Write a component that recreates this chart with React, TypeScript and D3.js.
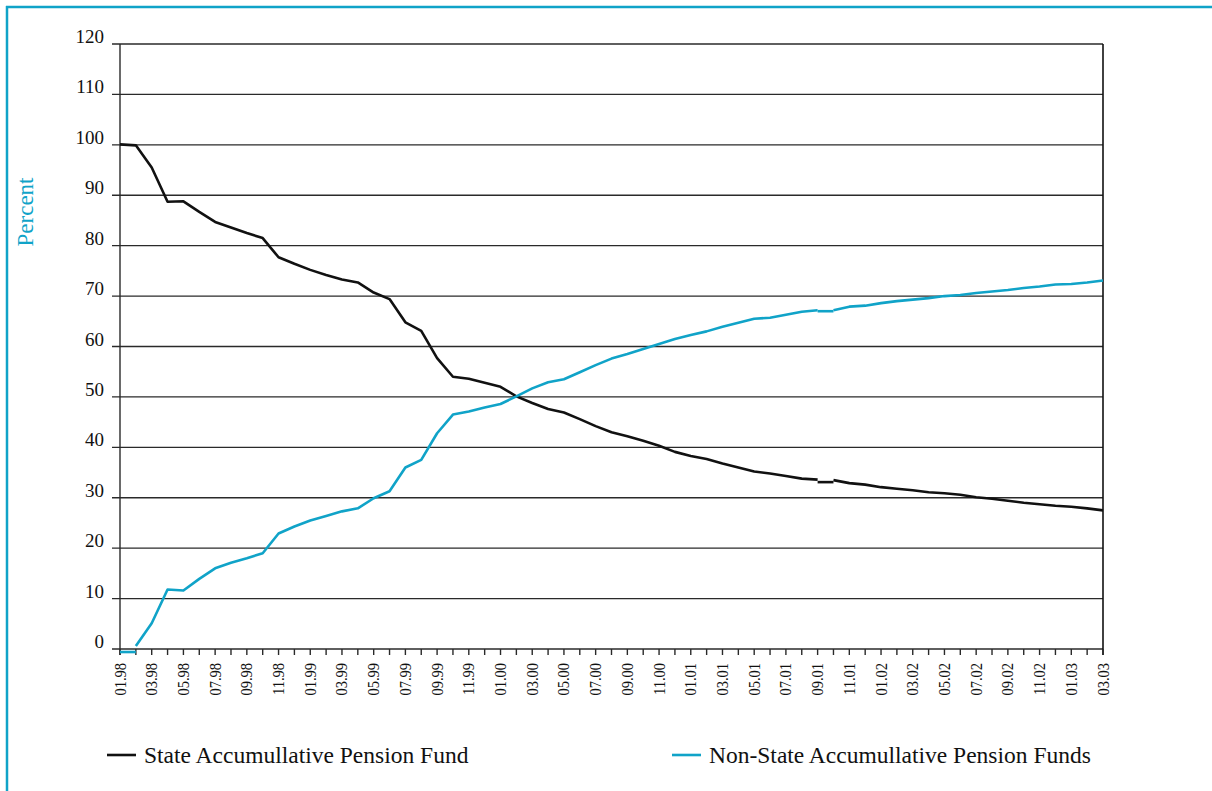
import React, { useEffect, useRef } from 'react';
import * as d3 from 'd3';

// months shown on the x axis (monthly, 01.98 .. 03.03)
const months = [
  '01.98', '02.98', '03.98', '04.98', '05.98', '06.98', '07.98', '08.98', '09.98', '10.98', '11.98', '12.98',
  '01.99', '02.99', '03.99', '04.99', '05.99', '06.99', '07.99', '08.99', '09.99', '10.99', '11.99', '12.99',
  '01.00', '02.00', '03.00', '04.00', '05.00', '06.00', '07.00', '08.00', '09.00', '10.00', '11.00', '12.00',
  '01.01', '02.01', '03.01', '04.01', '05.01', '06.01', '07.01', '08.01', '09.01', '10.01', '11.01', '12.01',
  '01.02', '02.02', '03.02', '04.02', '05.02', '06.02', '07.02', '08.02', '09.02', '10.02', '11.02', '12.02',
  '01.03', '02.03', '03.03',
];

const stateFund = [
  100.1, 99.9, 95.5, 88.7, 88.8, 86.7, 84.7, 83.6, 82.5, 81.5, 77.7, 76.4,
  75.2, 74.2, 73.3, 72.7, 70.7, 69.4, 64.8, 63.1, 57.7, 54.0, 53.6, 52.8,
  52.0, 50.1, 48.8, 47.6, 46.9, 45.6, 44.2, 43.0, 42.2, 41.3, 40.3, 39.1,
  38.3, 37.7, 36.8, 36.0, 35.2, 34.8, 34.3, 33.8, 33.6, 33.5, 32.9, 32.6,
  32.1, 31.8, 31.5, 31.1, 30.9, 30.6, 30.1, 29.8, 29.4, 29.0, 28.7, 28.4,
  28.2, 27.9, 27.5,
];

const nonStateFunds = [
  -0.6, 0.6, 5.1, 11.8, 11.6, 13.9, 16.0, 17.1, 18.0, 19.0, 22.9, 24.3,
  25.5, 26.4, 27.3, 27.9, 29.9, 31.3, 36.0, 37.5, 42.8, 46.5, 47.1, 47.9,
  48.6, 50.1, 51.7, 52.9, 53.5, 54.9, 56.3, 57.6, 58.5, 59.5, 60.5, 61.5,
  62.3, 63.0, 63.9, 64.7, 65.5, 65.7, 66.3, 66.9, 67.2, 67.2, 67.9, 68.1,
  68.6, 69.0, 69.3, 69.6, 70.0, 70.2, 70.6, 70.9, 71.2, 71.6, 71.9, 72.3,
  72.4, 72.7, 73.1,
];

// months where the source line has a detached flat piece up to the next month
const stateBreaks = [{ from: '09.01', value: 33.1 }];
const nonStateBreaks = [{ from: '01.98', value: -0.6 }, { from: '09.01', value: 67.0 }];

const yTicks = [0, 10, 20, 30, 40, 50, 60, 70, 80, 90, 100, 110, 120];

const BLUE = '#10a3c8';
const FONT = 'Liberation Serif, DejaVu Serif, serif';

export default function App() {
  const ref = useRef<SVGSVGElement>(null);

  useEffect(() => {
    const svg = d3.select(ref.current);
    svg.selectAll('*').remove();

    const x = d3.scalePoint<string>().domain(months).range([120, 1103]);
    const y = d3.scaleLinear().domain([0, 120]).range([649, 44]);

    // frame
    svg.append('line').attr('x1', 6).attr('x2', 1212).attr('y1', 7).attr('y2', 7)
      .attr('stroke', BLUE).attr('stroke-width', 2.5);
    svg.append('line').attr('x1', 7).attr('x2', 7).attr('y1', 6).attr('y2', 791)
      .attr('stroke', BLUE).attr('stroke-width', 2.5);

    // grid
    svg.selectAll('.grid').data(yTicks).join('line')
      .attr('class', 'grid')
      .attr('x1', 112).attr('x2', 1103)
      .attr('y1', d => y(d)).attr('y2', d => y(d))
      .attr('stroke', '#2a2a2a').attr('stroke-width', 1.4);

    svg.selectAll('.ylab').data(yTicks).join('text')
      .attr('class', 'ylab')
      .attr('x', 104).attr('y', d => y(d) - 1)
      .attr('text-anchor', 'end')
      .attr('font-family', FONT).attr('font-size', 19).attr('fill', '#111')
      .text(d => d);

    svg.append('line').attr('x1', 120).attr('x2', 120).attr('y1', 44).attr('y2', 655)
      .attr('stroke', '#2a2a2a').attr('stroke-width', 1.4);
    svg.append('line').attr('x1', 1103).attr('x2', 1103).attr('y1', 44).attr('y2', 655)
      .attr('stroke', '#111').attr('stroke-width', 1.6);

    // x ticks
    svg.selectAll('.xtick').data(months).join('line')
      .attr('class', 'xtick')
      .attr('x1', d => x(d)!).attr('x2', d => x(d)!)
      .attr('y1', 649).attr('y2', 655)
      .attr('stroke', '#2a2a2a').attr('stroke-width', 1.4);

    svg.selectAll('.xlab').data(months.filter((_, i) => i % 2 === 0)).join('text')
      .attr('class', 'xlab')
      .attr('transform', d => `translate(${x(d)! + 5.5},663) rotate(-90) scale(0.85,1)`)
      .attr('text-anchor', 'end')
      .attr('font-family', FONT).attr('font-size', 17).attr('fill', '#111')
      .text(d => d);

    svg.append('text')
      .attr('transform', 'translate(33,212) rotate(-90)')
      .attr('text-anchor', 'middle')
      .attr('font-family', FONT).attr('font-size', 23).attr('fill', BLUE)
      .text('Percent');

    const line = d3.line<[number, number]>()
      .x(d => x(months[d[0]])!)
      .y(d => y(d[1]));

    const drawSeries = (values: number[], breaks: { from: string; value: number }[], color: string) => {
      const cuts = breaks.map(b => months.indexOf(b.from));
      let start = 0;
      const pieces: [number, number][][] = [];
      [...cuts, values.length - 1].forEach(c => {
        const pts: [number, number][] = [];
        for (let i = start; i <= c; i++) pts.push([i, values[i]]);
        if (pts.length > 1) pieces.push(pts);
        start = c + 1;
      });
      pieces.forEach(p => {
        svg.append('path').attr('d', line(p)).attr('fill', 'none')
          .attr('stroke', color).attr('stroke-width', 2.6).attr('stroke-linejoin', 'round');
      });
      breaks.forEach(b => {
        const i = months.indexOf(b.from);
        svg.append('path').attr('d', line([[i, b.value], [i + 1, b.value]])).attr('fill', 'none')
          .attr('stroke', color).attr('stroke-width', 2.6);
      });
    };

    drawSeries(stateFund, stateBreaks, '#111');
    drawSeries(nonStateFunds, nonStateBreaks, BLUE);

    // legend
    const legend = [
      { name: 'State Accumullative Pension Fund', color: '#111', x: 107 },
      { name: 'Non-State Accumullative Pension Funds', color: BLUE, x: 672 },
    ];
    legend.forEach(l => {
      svg.append('line').attr('x1', l.x).attr('x2', l.x + 29).attr('y1', 755).attr('y2', 755)
        .attr('stroke', l.color).attr('stroke-width', 2.6);
      svg.append('text').attr('x', l.x + 37).attr('y', 763)
        .attr('font-family', FONT).attr('font-size', 23.5).attr('fill', '#111')
        .text(l.name);
    });
  }, []);

  return (
    <svg ref={ref} width={1212} height={791}
      style={{ position: 'absolute', left: 0, top: 0, background: '#fff' }} />
  );
}
